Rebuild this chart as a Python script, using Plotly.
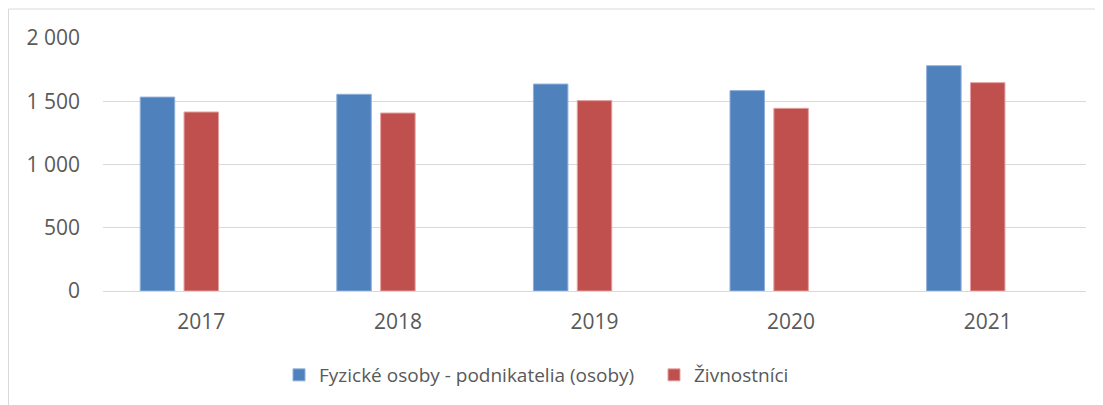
import plotly.graph_objects as go

years = ["2017", "2018", "2019", "2020", "2021"]
fyzicke_osoby = [1533, 1555, 1636, 1584, 1781]
zivnostnici = [1415, 1407, 1505, 1444, 1647]
empty_series = [None, None, None, None, None]

ytick_vals = [0, 500, 1000, 1500, 2000]
ytick_text = ["0", "500", "1 000", "1 500", "2 000"]

FONT = "Open Sans"
TXT = "#595959"

fig = go.Figure()
fig.add_trace(go.Bar(x=years, y=fyzicke_osoby, name="Fyzické osoby - podnikatelia (osoby)",
                     marker=dict(color="#4F81BD", line=dict(color="#8fb0da", width=1))))
fig.add_trace(go.Bar(x=years, y=zivnostnici, name="Živnostníci",
                     marker=dict(color="#C0504D", line=dict(color="#e3a19f", width=1))))
fig.add_trace(go.Bar(x=years, y=empty_series, name="", showlegend=False,
                     marker=dict(color="#9BBB59")))

# plot area in figure pixels (page body adds an 8px offset)
L, R, T, B = 95, 1078, 30, 283
PW, PH = R - L, B - T

fig.update_layout(
    width=1103, height=405,
    margin=dict(l=L, r=1103 - R, t=T, b=405 - B, autoexpand=False),
    paper_bgcolor="white", plot_bgcolor="white",
    barmode="group", bargap=0.331, bargroupgap=0.213,
    font=dict(family=FONT, size=19, color=TXT),
    showlegend=True,
    legend=dict(orientation="h", x=(279 - 8 - L) / PW, xanchor="left",
                y=(B - (375 - 8)) / PH, yanchor="middle",
                font=dict(family=FONT, size=19, color=TXT), itemwidth=30,
                entrywidth=330, entrywidthmode="pixels", tracegroupgap=0, traceorder="normal"),
    xaxis=dict(type="category", showgrid=False, showline=False, zeroline=False,
               ticks="", ticklabelstandoff=16, tickfont=dict(size=21, color=TXT)),
    yaxis=dict(range=[0, 2000], tickvals=ytick_vals, ticktext=ytick_text,
               showgrid=True, gridcolor="#d9d9d9", gridwidth=1, zeroline=True,
               zerolinecolor="#d9d9d9", zerolinewidth=1, showline=False, ticks="",
               ticklabelstandoff=22, tickfont=dict(size=21, color=TXT)),
    shapes=[dict(type="rect", xref="paper", yref="paper",
                 x0=(0.5 - L) / PW, x1=(1110 - L) / PW,
                 y0=(B - 430) / PH, y1=(B - 1) / PH,
                 line=dict(color="#d9d9d9", width=1), fillcolor="rgba(0,0,0,0)", layer="below")],
)

fig.write_html("out.html")
